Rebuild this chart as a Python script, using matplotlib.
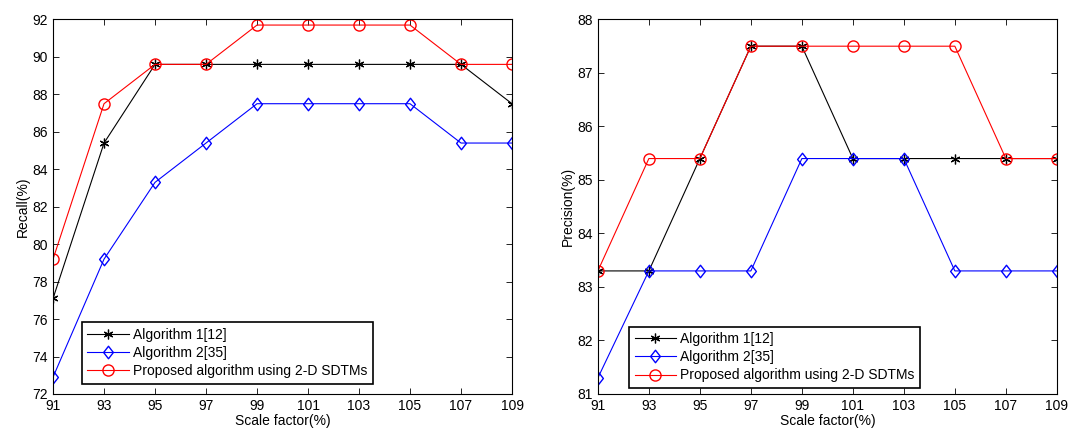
import matplotlib
matplotlib.use("Agg")
import matplotlib.pyplot as plt
from matplotlib.path import Path

plt.rcParams['font.family'] = ['Liberation Sans', 'DejaVu Sans']

scale = [91, 93, 95, 97, 99, 101, 103, 105, 107, 109]

recall_alg1 = [77.1, 85.4, 89.6, 89.6, 89.6, 89.6, 89.6, 89.6, 89.6, 87.5]
recall_alg2 = [72.9, 79.2, 83.3, 85.4, 87.5, 87.5, 87.5, 87.5, 85.4, 85.4]
recall_prop = [79.2, 87.5, 89.6, 89.6, 91.7, 91.7, 91.7, 91.7, 89.6, 89.6]

prec_alg1 = [83.3, 83.3, 85.4, 87.5, 87.5, 85.4, 85.4, 85.4, 85.4, 85.4]
prec_alg2 = [81.3, 83.3, 83.3, 83.3, 85.4, 85.4, 85.4, 83.3, 83.3, 83.3]
prec_prop = [83.3, 85.4, 85.4, 87.5, 87.5, 87.5, 87.5, 87.5, 85.4, 85.4]

labels = ['Algorithm 1[12]', 'Algorithm 2[35]', 'Proposed algorithm using 2-D SDTMs']

diamond = Path([(0, 1), (0.78, 0), (0, -1), (-0.78, 0), (0, 1)],
               [Path.MOVETO, Path.LINETO, Path.LINETO, Path.LINETO, Path.CLOSEPOLY])

fig = plt.figure(figsize=(10.91, 4.32), dpi=100)
ax1 = fig.add_axes([0.0486, 0.088, 0.4207, 0.867])
ax2 = fig.add_axes([0.548, 0.088, 0.4207, 0.867])

def draw(ax, a1, a2, ap, ylim, yticks, ylabel, legloc):
    ax.plot(scale, a1, color='black', marker=(6, 2, 0), markersize=7, markeredgewidth=0.9,
            linewidth=0.8, label=labels[0])
    ax.plot(scale, a2, color='blue', marker=diamond, markersize=9, markerfacecolor='none',
            linewidth=0.8, label=labels[1])
    ax.plot(scale, ap, color='red', marker='o', markersize=8, markerfacecolor='none',
            linewidth=0.8, label=labels[2])
    ax.set_xlim(91, 109)
    ax.set_ylim(*ylim)
    ax.set_xticks(scale)
    ax.set_yticks(yticks)
    ax.tick_params(direction='in', top=True, right=True, labelsize=10, length=4, width=0.6)
    for s in ax.spines.values():
        s.set_linewidth(0.8)
    ax.set_xlabel('Scale factor(%)', fontsize=10, labelpad=1)
    ax.set_ylabel(ylabel, fontsize=10, labelpad=2)
    leg = ax.legend(loc='lower left', bbox_to_anchor=legloc, fontsize=10, fancybox=False,
                    edgecolor='black', framealpha=1, borderpad=0.4, labelspacing=0.3,
                    handlelength=3, handletextpad=0.3, borderaxespad=0)
    leg.get_frame().set_linewidth(1.2)

draw(ax1, recall_alg1, recall_alg2, recall_prop, (72, 92), list(range(72, 93, 2)), 'Recall(%)', (0.063, 0.027))
draw(ax2, prec_alg1, prec_alg2, prec_prop, (81, 88), list(range(81, 89)), 'Precision(%)', (0.068, 0.016))

fig.savefig('out.png', dpi=100)
